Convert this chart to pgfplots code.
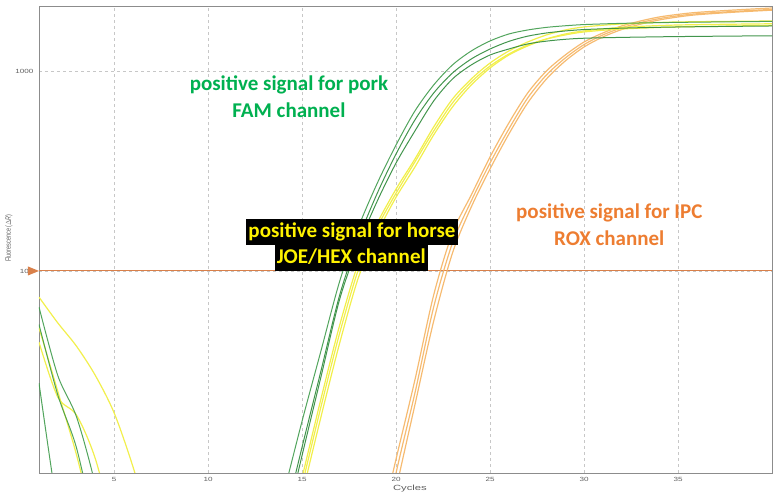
\documentclass[border=0pt]{standalone}
\usepackage{pgfplots}
\pgfplotsset{compat=1.18}
\usepackage{fontspec}
\setmainfont{Carlito}
\newfontfamily\tickfont{Liberation Sans}

\definecolor{famgreen}{HTML}{3F9B4B}
\definecolor{famdark}{HTML}{2E8A3A}
\definecolor{joeyellow}{HTML}{F2EF4C}
\definecolor{roxorange}{HTML}{F5B462}
\definecolor{thrcol}{HTML}{D9804A}
\definecolor{porktext}{HTML}{00B050}
\definecolor{ipctext}{HTML}{ED7D31}
\definecolor{labgray}{HTML}{606060}
\definecolor{axgray}{HTML}{8C8C8C}

\begin{document}
\begin{tikzpicture}
\begin{axis}[
    scale only axis,
    width=733pt, height=467pt,
    xmin=1, xmax=40,
    ymode=log, ymin=9.77, ymax=2113,
    axis line style={draw=axgray, line width=0.8pt},
    /pgf/number format/assume math mode=true,
    xtick={5,10,...,35},
    xticklabels={\scalebox{1.35}[1]{5},\scalebox{1.35}[1]{10},\scalebox{1.35}[1]{15},\scalebox{1.35}[1]{20},
                 \scalebox{1.35}[1]{25},\scalebox{1.35}[1]{30},\scalebox{1.35}[1]{35}},
    ytick={100,1000},
    yticklabels={\scalebox{1.35}[1]{100},\scalebox{1.35}[1]{1000}},
    minor ytick={},
    major tick length=0pt, minor tick length=0pt,
    xmajorgrids, ymajorgrids,
    major grid style={dashed, black!22, line width=0.5pt},
    xticklabel style={font=\tickfont\fontsize{6}{6}\selectfont, text=labgray, yshift=-1pt},
    yticklabel style={font=\tickfont\fontsize{6}{6}\selectfont, text=labgray, xshift=-2pt},
    xlabel={\scalebox{1.5}[1]{Cycles}},
    xlabel style={font=\tickfont\fontsize{7.5}{8}\selectfont, text=labgray,
        at={(axis description cs:0.506,-0.034)}, anchor=center},
    ylabel={\scalebox{1}[1.4]{Fluorescence (\textit{$\Delta$R})}},
    ylabel style={font=\tickfont\fontsize{5.5}{6}\selectfont, text=labgray,
        at={(axis description cs:-0.041,0.503)}, anchor=center},
    every axis plot/.append style={smooth, no marks},
]

% threshold
\addplot[thrcol, line width=1pt, sharp plot] coordinates {(1,100) (40,100)};

% early drift segments
\addplot[joeyellow, line width=1.2pt] coordinates {(1,74) (2,55) (3,42) (4,30) (5,19.5) (6,10.5) (7,5)};
\addplot[joeyellow, line width=1.2pt] coordinates {(1,44) (2,23.4) (3,19) (4,11.5) (5,5)};
\addplot[joeyellow, line width=1.2pt] coordinates {(1,52) (2,25) (3,12) (4,5)};
\addplot[famgreen, line width=1pt, opacity=0.9] coordinates {(1,66) (2,30) (3,18.6) (4,8.5) (5,3)};
\addplot[famgreen, line width=1pt, opacity=0.9] coordinates {(1,54) (2,24) (3,13) (4,5)};
\addplot[famgreen, line width=1pt, opacity=0.9] coordinates {(1,27.5) (2,6.3) (3,2)};

% ROX (IPC)
\addplot[roxorange, line width=1.2pt, opacity=0.9] coordinates {
 (19,4.5) (20,11.5) (21,28.5) (22,75.9) (23,155) (24,240) (25,372) (26,550) (27,776) (28,1000)
 (29,1202) (30,1396) (31,1549) (32,1679) (33,1778) (34,1862) (35,1919) (36,1963) (38,2018) (40,2065)};
\addplot[roxorange, line width=1.2pt, opacity=0.9] coordinates {
 (19,3.5) (20,9.8) (21,24.5) (22,66.1) (23,138) (24,224) (25,347) (26,513) (27,733) (28,955)
 (29,1161) (30,1355) (31,1514) (32,1644) (33,1746) (34,1828) (35,1888) (36,1932) (38,1986) (40,2032)};
\addplot[roxorange, line width=1.2pt, opacity=0.9] coordinates {
 (19,2.8) (20,8.1) (21,21.4) (22,56.2) (23,123) (24,209) (25,324) (26,484) (27,692) (28,912)
 (29,1122) (30,1318) (31,1479) (32,1611) (33,1714) (34,1799) (35,1862) (36,1910) (38,1968) (40,2014)};

% JOE/HEX (horse)
\addplot[joeyellow, line width=1.2pt] coordinates {
 (14,3.8) (15,9.3) (16,22.9) (17,53.7) (18,110) (19,174) (20,257) (21,363) (22,525) (23,724)
 (24,912) (25,1096) (26,1259) (27,1396) (28,1514) (29,1603) (30,1660) (32,1718) (35,1758) (40,1778)};
\addplot[joeyellow, line width=1.2pt] coordinates {
 (14,3) (15,7.6) (16,18.6) (17,43.7) (18,93) (19,155) (20,234) (21,331) (22,479) (23,661)
 (24,851) (25,1035) (26,1202) (27,1334) (28,1445) (29,1531) (30,1585) (32,1652) (35,1698) (40,1722)};
\addplot[joeyellow, line width=1.2pt] coordinates {
 (14,3.4) (15,8.5) (16,20.9) (17,49) (18,102) (19,166) (20,245) (21,351) (22,501) (23,692)
 (24,881) (25,1059) (26,1216) (27,1349) (28,1445) (29,1514) (30,1567) (32,1622) (35,1660) (40,1690)};

% FAM (pork)
\addplot[famgreen, line width=1pt, opacity=0.9] coordinates {
 (14,7.6) (15,17.8) (16,39.8) (17,89) (18,166) (19,275) (20,427) (21,631) (22,851) (23,1072)
 (24,1259) (25,1413) (26,1531) (27,1603) (28,1652) (29,1683) (30,1706) (32,1730) (35,1750) (40,1770)};
\addplot[famdark, line width=1pt, opacity=0.9] coordinates {
 (14,5.4) (15,13.2) (16,31.6) (17,75.9) (18,145) (19,245) (20,385) (21,569) (22,776) (23,977)
 (24,1148) (25,1288) (26,1406) (27,1493) (28,1549) (29,1585) (30,1611) (32,1637) (35,1660) (40,1679)};
\addplot[famdark, line width=1pt, opacity=0.9] coordinates {
 (14,4.8) (15,12.0) (16,29.5) (17,72.4) (18,135) (19,224) (20,347) (21,501) (22,708) (23,912)
 (24,1072) (25,1202) (26,1288) (27,1365) (28,1410) (29,1440) (30,1458) (32,1472) (35,1486) (40,1500)};

% annotations
\tikzset{ann/.style={font=\bfseries\fontsize{21}{25}\selectfont, text height=15pt, text depth=5pt, anchor=center}}
\node[ann, text=porktext] at (rel axis cs:0.341,0.829) {positive signal for pork};
\node[ann, text=porktext] at (rel axis cs:0.341,0.773) {FAM channel};
\node[ann, text=yellow, fill=black, inner xsep=2pt, inner ysep=3pt] at (rel axis cs:0.427,0.516) {positive signal for horse};
\node[ann, text=yellow, fill=black, inner xsep=2pt, inner ysep=3pt] at (rel axis cs:0.426,0.460) {JOE/HEX channel};
\node[ann, text=ipctext] at (rel axis cs:0.778,0.555) {positive signal for IPC};
\node[ann, text=ipctext] at (rel axis cs:0.778,0.497) {ROX channel};

\coordinate (SW) at (rel axis cs:0,0);
\coordinate (NE) at (rel axis cs:1,1);
\coordinate (T) at (axis cs:1,100);
\end{axis}
\fill[thrcol] (T) -- ++(-11pt,4.5pt) -- ++(0,-9pt) -- cycle;
\pgfresetboundingbox
\path (SW) ++(-39pt,-20pt) coordinate (a);
\path (NE) ++(4pt,6pt) coordinate (b);
\useasboundingbox (a) rectangle (b);
\end{tikzpicture}
\end{document}
